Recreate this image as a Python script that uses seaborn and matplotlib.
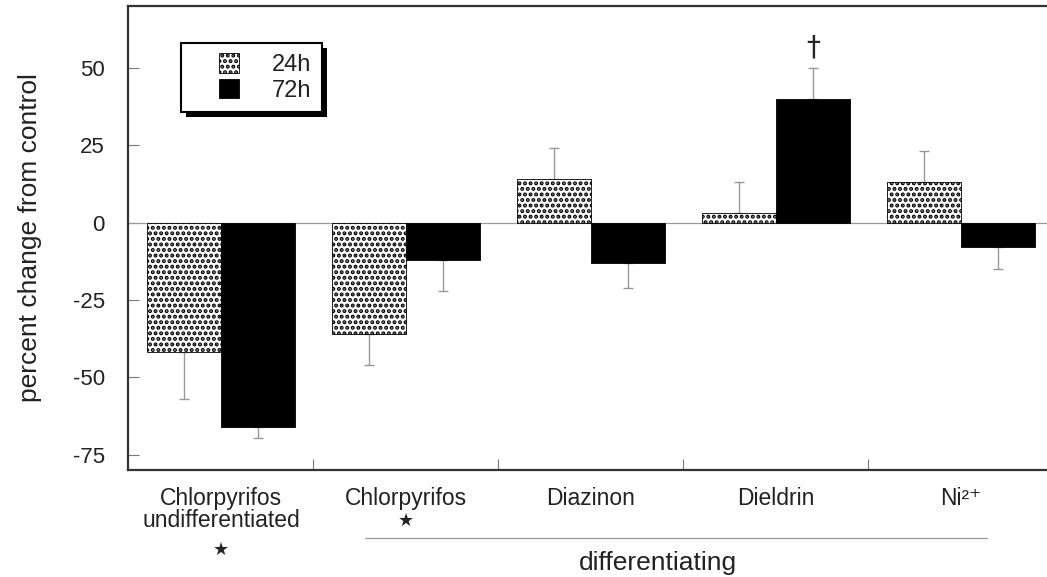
import matplotlib
matplotlib.use("Agg")
import matplotlib.pyplot as plt
import matplotlib.transforms as mtransforms
from matplotlib.patches import Rectangle
from matplotlib.legend_handler import HandlerPatch
import seaborn as sns
import numpy as np
import pandas as pd

groups = ["Chlorpyrifos\nundifferentiated", "Chlorpyrifos", "Diazinon", "Dieldrin", "Ni²⁺"]
times = ["24h", "72h"]
values_24h = [-42, -36, 14, 3, 13]
values_72h = [-66, -12, -13, 40, -8]
err_24h = [15, 10, 10, 10, 10]
err_72h = [3.5, 10, 8, 10, 7]
yticks = [-75, -50, -25, 0, 25, 50]

sns.set_theme(style="white")
plt.rcParams['font.family'] = ['Liberation Sans', 'DejaVu Sans']
plt.rcParams['hatch.linewidth'] = 2.0

HATCH = "..."

df = pd.DataFrame({
    "group": groups * 2,
    "time": [times[0]] * len(groups) + [times[1]] * len(groups),
    "value": values_24h + values_72h,
})

fig = plt.figure(figsize=(10.47, 5.77), dpi=100)
ax = fig.add_axes([0.1227, 0.1854, 0.8773, 0.8042])

sns.barplot(data=df, x="group", y="value", hue="time", order=groups, hue_order=times,
            palette=["white", "black"], edgecolor="black", linewidth=0.6,
            errorbar=None, width=0.8, saturation=1, ax=ax, zorder=3)

bars = list(ax.patches)[:2 * len(groups)]
b24 = bars[:len(groups)]
b72 = bars[len(groups):]
for p in b24:
    p.set_hatch(HATCH)
    p.set_edgecolor("black")

def draw_err(blist, vals, errs):
    xs = [p.get_x() + p.get_width() / 2 for p in blist]
    for x, v, e in zip(xs, vals, errs):
        yerr = [[0], [e]] if v >= 0 else [[e], [0]]
        ax.errorbar([x], [v], yerr=yerr, fmt="none", ecolor="#999999",
                    elinewidth=1.0, capsize=3.5, capthick=1.0, zorder=2)

draw_err(b24, values_24h, err_24h)
draw_err(b72, values_72h, err_72h)

ax.axhline(0, color="#999999", lw=0.9, zorder=1)

ax.set_ylim(-80, 70)
ax.set_xlim(-0.5, (1047 - 128.5) / 185 - 0.5)
ax.set_yticks(yticks)
ax.set_yticklabels([str(t) for t in yticks], fontsize=16)
ax.tick_params(axis="y", direction="in", length=8, width=0.8, color="#777777", pad=17,
               left=True, labelcolor="#222222")
ax.set_xticks(range(len(groups)))
ax.set_xticklabels(groups, fontsize=16.5, color="#222222", linespacing=0.95)
ax.tick_params(axis="x", which="major", length=0, pad=12)
ax.set_xticks([i + 0.5 for i in range(len(groups) - 1)], minor=True)
ax.tick_params(axis="x", which="minor", direction="in", length=8, width=0.8,
               color="#777777", bottom=True)
ax.set_xlabel("")
ax.set_ylabel("percent change from control", fontsize=19, labelpad=22, color="#222222")

for s in ["left", "bottom", "top"]:
    ax.spines[s].set_visible(True)
    ax.spines[s].set_color("#333333")
    ax.spines[s].set_linewidth(1.6)
ax.spines["right"].set_visible(False)


def right_square(legend, orig_handle, xdescent, ydescent, width, height, fontsize):
    s = height * 1.05
    return Rectangle((-xdescent + width - s, -ydescent + (height - s) / 2), s, s)


handles, labels = ax.get_legend_handles_labels()
leg = ax.legend(handles, labels, loc="upper left", bbox_to_anchor=(0.057, 0.92),
                frameon=True, fancybox=False, shadow=False, fontsize=17,
                handlelength=2.0, handleheight=0.85, handletextpad=1.4,
                borderpad=0.45, labelspacing=0.12, borderaxespad=0,
                handler_map={Rectangle: HandlerPatch(patch_func=right_square)})
leg.get_frame().set_edgecolor("black")
leg.get_frame().set_linewidth(1.5)
leg.get_frame().set_alpha(1)
leg.set_zorder(6)
for h in leg.legend_handles:
    h.set_edgecolor("black")
leg.legend_handles[0].set_hatch(HATCH)
for t in leg.get_texts():
    t.set_color("#222222")

fig.canvas.draw()
bb = leg.get_frame().get_window_extent(fig.canvas.get_renderer())
shadow = Rectangle((bb.x0 + 5, bb.y0 - 5), bb.width, bb.height, transform=None,
                   facecolor="black", edgecolor="none", zorder=5.5, clip_on=False)
ax.add_patch(shadow)

trans = mtransforms.blended_transform_factory(ax.transData, ax.transAxes)
ax.text(0, -0.172, "★", transform=trans, ha="center", va="center", fontsize=13,
        family="DejaVu Sans", clip_on=False)
ax.text(1, -0.110, "★", transform=trans, ha="center", va="center", fontsize=13,
        family="DejaVu Sans", clip_on=False)
ax.text(b72[3].get_x() + b72[3].get_width() / 2, values_72h[3] + err_72h[3] + 2, "†",
        ha="center", va="bottom", fontsize=20, family="DejaVu Sans")
ax.plot([0.778, 4.14], [-0.147, -0.147], transform=trans, color="#999999", lw=0.9,
        clip_on=False)
ax.text(2.362, -0.20, "differentiating", transform=trans, ha="center", va="center",
        fontsize=19, color="#222222", clip_on=False)

fig.savefig("out.png", dpi=100)
